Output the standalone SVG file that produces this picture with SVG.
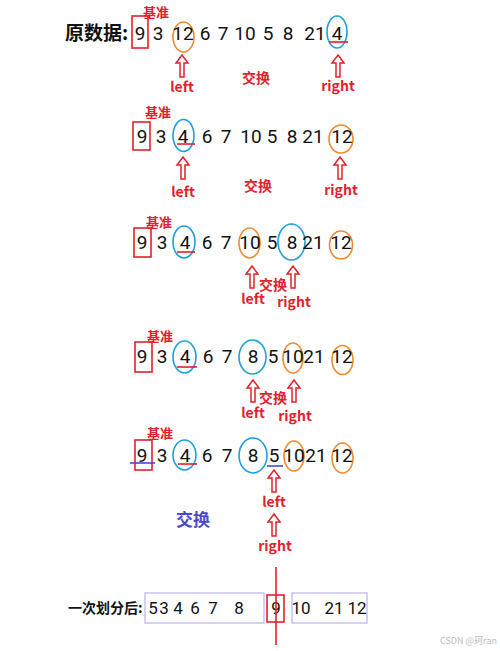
<svg xmlns="http://www.w3.org/2000/svg" width="500" height="651" viewBox="0 0 500 651">
<defs>
<style>
.n{font-family:Roboto,"Noto Sans",sans-serif;font-size:19px;fill:#111;text-anchor:middle}
.m{font-family:Roboto,"Noto Sans",sans-serif;font-size:17px;fill:#111;text-anchor:middle}
.lb{font-family:"Noto Sans CJK SC","Noto Sans",sans-serif;font-size:13px;font-weight:bold;fill:#e3202b}
.lr{font-family:"Noto Sans CJK SC","Noto Sans",sans-serif;font-size:14px;font-weight:bold;fill:#e3202b;text-anchor:middle}
.hd{font-family:"Noto Sans CJK SC","Noto Sans",sans-serif;font-weight:bold;fill:#111}
.pv{fill:none;stroke:#e3202b;stroke-width:1.6}
.oe{fill:none;stroke:#ef8a2e;stroke-width:1.6}
.be{fill:none;stroke:#1fa0dc;stroke-width:1.6}
.ru{stroke:#e3202b;stroke-width:1.6}
.bu{stroke:#4a4ac8;stroke-width:1.6}
.ar{fill:#fff;stroke:#e3202b;stroke-width:1.5;stroke-linejoin:miter}
.bx{fill:none;stroke:#c6c2ee;stroke-width:1.5}
</style>
<path id="up" d="M0,0 L6,8 L2,8 L2,22 L-2,22 L-2,8 L-6,8 Z" class="ar"/>
</defs>
<rect width="500" height="651" fill="#fff"/>

<g id="row1">
<text x="65" y="40" class="hd" font-size="19">原数据:</text>
<text x="143" y="17" class="lb">基准</text>
<rect x="132" y="16" width="16" height="32" class="pv"/>
<ellipse cx="183.5" cy="37" rx="10.5" ry="15" class="oe"/>
<ellipse cx="337" cy="32" rx="10" ry="16" class="be"/>
<line x1="329" y1="42" x2="348" y2="42" class="ru"/>
<text y="40" class="n"><tspan x="140">9</tspan><tspan x="158">3</tspan><tspan x="183">12</tspan><tspan x="205">6</tspan><tspan x="223">7</tspan><tspan x="245">10</tspan><tspan x="268">5</tspan><tspan x="288">8</tspan><tspan x="315">21</tspan><tspan x="337">4</tspan></text>
<use href="#up" x="182" y="55"/>
<use href="#up" x="338" y="55"/>
<text x="182" y="92" class="lr">left</text>
<text x="256" y="83" class="lr">交换</text>
<text x="338" y="91" class="lr">right</text>
</g>

<g id="row2">
<text x="145" y="117" class="lb">基准</text>
<rect x="133" y="122" width="17" height="28" class="pv"/>
<ellipse cx="183.5" cy="135.5" rx="10.5" ry="16" class="be"/>
<line x1="177" y1="144" x2="195" y2="144" class="ru"/>
<ellipse cx="341" cy="139" rx="12" ry="14" class="oe"/>
<text y="143" class="n"><tspan x="142">9</tspan><tspan x="161">3</tspan><tspan x="183">4</tspan><tspan x="207">6</tspan><tspan x="226">7</tspan><tspan x="251">10</tspan><tspan x="272">5</tspan><tspan x="292">8</tspan><tspan x="313">21</tspan><tspan x="342">12</tspan></text>
<use href="#up" x="183" y="157"/>
<use href="#up" x="340" y="157"/>
<text x="183" y="197" class="lr">left</text>
<text x="258" y="191" class="lr">交换</text>
<text x="341" y="195" class="lr">right</text>
</g>

<g id="row3">
<text x="146" y="227" class="lb">基准</text>
<rect x="134" y="228" width="17" height="29" class="pv"/>
<ellipse cx="184" cy="242" rx="11" ry="16" class="be"/>
<line x1="177" y1="252" x2="195" y2="252" class="ru"/>
<ellipse cx="249.5" cy="243" rx="10.5" ry="15" class="oe"/>
<ellipse cx="291.5" cy="242" rx="13.5" ry="18" class="be"/>
<ellipse cx="341" cy="245" rx="11.5" ry="14" class="oe"/>
<text y="249" class="n"><tspan x="142">9</tspan><tspan x="162">3</tspan><tspan x="185">4</tspan><tspan x="207">6</tspan><tspan x="226">7</tspan><tspan x="250">10</tspan><tspan x="272">5</tspan><tspan x="292">8</tspan><tspan x="313">21</tspan><tspan x="341">12</tspan></text>
<use href="#up" x="252" y="266"/>
<use href="#up" x="293" y="266"/>
<text x="273" y="290" class="lr">交换</text>
<text x="253" y="304" class="lr">left</text>
<text x="294" y="307" class="lr">right</text>
</g>

<g id="row4">
<text x="147" y="341" class="lb">基准</text>
<rect x="135" y="342" width="17" height="30" class="pv"/>
<ellipse cx="184.5" cy="357" rx="11.5" ry="16" class="be"/>
<line x1="177" y1="367" x2="197" y2="367" class="ru"/>
<ellipse cx="252.5" cy="357" rx="13.5" ry="17" class="be"/>
<ellipse cx="293" cy="358" rx="10" ry="15" class="oe"/>
<ellipse cx="342.5" cy="360" rx="10.5" ry="14.5" class="oe"/>
<text y="363" class="n"><tspan x="142">9</tspan><tspan x="162">3</tspan><tspan x="185">4</tspan><tspan x="208">6</tspan><tspan x="227">7</tspan><tspan x="253">8</tspan><tspan x="273">5</tspan><tspan x="293">10</tspan><tspan x="314">21</tspan><tspan x="342">12</tspan></text>
<use href="#up" x="253" y="380"/>
<use href="#up" x="294" y="380"/>
<text x="273" y="403" class="lr">交换</text>
<text x="253" y="418" class="lr">left</text>
<text x="295" y="421" class="lr">right</text>
</g>

<g id="row5">
<text x="147" y="438" class="lb">基准</text>
<rect x="135" y="440" width="17" height="30" class="pv"/>
<line x1="130" y1="463" x2="155" y2="463" class="bu"/>
<ellipse cx="184.5" cy="455" rx="11.5" ry="15" class="be"/>
<line x1="178" y1="464" x2="197" y2="464" class="ru"/>
<ellipse cx="253" cy="455.5" rx="14" ry="17.5" class="be"/>
<line x1="267" y1="466" x2="283" y2="466" class="bu"/>
<ellipse cx="294" cy="456" rx="10" ry="15" class="oe"/>
<ellipse cx="342.5" cy="458" rx="10.5" ry="15" class="oe"/>
<text y="462" class="n"><tspan x="142">9</tspan><tspan x="162">3</tspan><tspan x="185">4</tspan><tspan x="207">6</tspan><tspan x="227">7</tspan><tspan x="253">8</tspan><tspan x="274">5</tspan><tspan x="294">10</tspan><tspan x="316">21</tspan><tspan x="342">12</tspan></text>
<use href="#up" x="274" y="470"/>
<text x="274" y="507" class="lr">left</text>
<use href="#up" x="274" y="514"/>
<text x="275" y="551" class="lr">right</text>
<text x="193" y="526" font-family="Noto Sans CJK SC, sans-serif" font-size="17" font-weight="bold" fill="#4a4ac8" text-anchor="middle">交换</text>
</g>

<g id="result">
<text x="68" y="613" class="hd" font-size="14">一次划分后:</text>
<rect x="145" y="593" width="119" height="30" class="bx"/>
<rect x="292" y="593" width="75" height="30" class="bx"/>
<rect x="267" y="595" width="17" height="27" class="pv"/>
<text y="614" class="m"><tspan x="153">5</tspan><tspan x="164">3</tspan><tspan x="178">4</tspan><tspan x="195">6</tspan><tspan x="213">7</tspan><tspan x="239">8</tspan><tspan x="276">9</tspan><tspan x="301">10</tspan><tspan x="334">21</tspan><tspan x="357">12</tspan></text>
<line x1="276" y1="567" x2="276" y2="645" stroke="#e3202b" stroke-width="1.6"/>
</g>

<text x="440" y="644" font-family="Noto Sans CJK SC, sans-serif" font-size="9" fill="#bbb">CSDN @珂ran</text>
</svg>
